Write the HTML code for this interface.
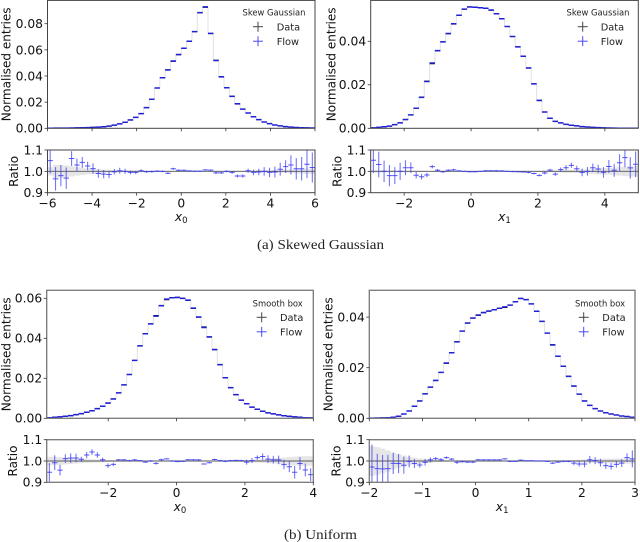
<!DOCTYPE html>
<html>
<head>
<meta charset="utf-8">
<title>Normalised entries and ratio plots</title>
<style>
html,body{margin:0;padding:0;background:#fff;}
svg{display:block;font-family:"DejaVu Sans","Liberation Sans",sans-serif;filter:blur(0.35px);}
</style>
</head>
<body>
<svg id="figure" width="640" height="542" viewBox="0 0 640 542" xmlns="http://www.w3.org/2000/svg">
<defs id="clips"></defs>
<text x="257" y="249" font-family="'Liberation Serif',serif" font-size="14" fill="#222" textLength="127" lengthAdjust="spacingAndGlyphs">(a) Skewed Gaussian</text>
<text x="284" y="539" font-family="'Liberation Serif',serif" font-size="14" fill="#222" textLength="73" lengthAdjust="spacingAndGlyphs">(b) Uniform</text>
</svg>
<script>
// ---- Skew Gaussian x0 ----
const skewX0Entries = [.00005,.0001,.0001,.00015,.0002,.0003,.0004,.0005,.0007,.0009,.0012,.0017,.0024,.0034,.0046,.0064,.0084,.0112,.0158,.0222,.0308,.0387,.0448,.0512,.0563,.0611,.0665,.0739,.0884,.0925,.0724,.052,.0395,.031,.0245,.0189,.0148,.0117,.0089,.0066,.0048,.0036,.0025,.0018,.0013,.0009,.0006,.0004,.0003,.0002];
const skewX0Ratio = [1.05,.965,.98,.968,1.06,1.03,1.042,1.025,1.013,.99,.987,.985,.998,1.003,1.0,.995,.995,1.003,.998,.999,1.001,1.0,.991,1.012,1.005,1.005,1.002,1.001,1.001,1.007,1.006,.993,.993,1.0,.995,.978,.978,1.003,.995,.997,1.0,.995,.997,1.01,1.022,1.03,1.012,1.012,1.033,1.018];
const skewX0Error = [.06,.055,.05,.05,.035,.03,.025,.02,.025,.02,.02,.017,.013,.014,.012,.009,.008,.007,.005,.005,.004,.004,.004,.005,.004,.003,.003,.003,.003,.003,.003,.006,.005,.005,.006,.007,.008,.01,.013,.015,.02,.022,.025,.03,.03,.045,.05,.055,.065,.07];
const skewX0Band = [.02,.03,.03,.028,.024,.02,.017,.014,.012,.01,.008,.007,.006,.005,.004,.004,.003,.003,.002,.002,.002,.002,.002,.002,.002,.002,.002,.002,.002,.002,.002,.002,.002,.003,.003,.003,.003,.004,.004,.005,.005,.006,.007,.007,.008,.009,.01,.011,.012,.013];
const skewX0TicksX = [-6,-4,-2,0,2,4,6];
const skewX0TicksY = [0,.02,.04,.06,.08];
// ---- Skew Gaussian x1 ----
const skewX1Entries = [.0002,.0004,.0007,.001,.0017,.0025,.004,.0061,.0093,.0144,.0217,.0297,.0356,.0398,.0435,.0479,.0519,.0548,.0558,.0557,.0554,.0551,.0543,.0526,.0503,.0468,.0422,.0375,.0332,.0278,.0205,.0129,.0075,.0046,.0032,.0025,.0018,.0014,.0011,.0008,.0006,.0004,.0003,.0002,.00015,.0001,.00005,.00005,.00005,.00005];
const skewX1Ratio = [1.052,1.032,1.0,.98,.98,1.0,1.017,1.017,.982,.975,.983,1.022,1.005,.998,1.005,1.007,1.002,1.0,.998,.998,1.0,1.003,1.003,1.003,1.002,1.0,.999,.998,.997,.995,.99,.981,.992,1.006,.987,1.008,1.017,1.028,1.012,.995,1.0,1.017,1.011,.995,1.023,1.005,1.04,1.064,1.016,1.033];
const skewX1Error = [.06,.06,.05,.05,.04,.04,.035,.025,.015,.013,.01,.008,.006,.005,.005,.005,.003,.003,.003,.003,.003,.003,.003,.003,.003,.003,.003,.003,.003,.004,.004,.005,.006,.006,.008,.01,.012,.012,.014,.018,.02,.02,.02,.025,.03,.03,.04,.045,.05,.06];
const skewX1Band = [.006,.006,.005,.005,.005,.004,.004,.003,.003,.003,.002,.002,.002,.002,.002,.002,.002,.002,.002,.002,.002,.002,.002,.002,.002,.002,.002,.002,.002,.002,.003,.003,.004,.004,.005,.006,.007,.008,.008,.009,.01,.012,.014,.015,.016,.018,.02,.022,.024,.024];
const skewX1TicksX = [-2,0,2,4];
const skewX1TicksY = [0,.02,.04];
// ---- Smooth box x0 ----
const boxX0Entries = [.0003,.0005,.0007,.001,.0013,.0018,.0023,.003,.0037,.0048,.006,.0077,.0097,.0127,.0167,.0219,.0289,.0362,.0424,.0472,.0514,.0562,.0593,.0603,.0605,.06,.0589,.0549,.0505,.0457,.0408,.0343,.0268,.0203,.0153,.0118,.0091,.0073,.0056,.0045,.0035,.0027,.0022,.0017,.0013,.001,.0007,.0005,.0003,.0002];
const boxX0Ratio = [.947,.992,.957,1.011,1.014,1.014,1.008,1.028,1.042,1.028,1.006,.978,.984,1.005,1.005,1.002,1.005,1.002,.995,1.0,.989,1.006,1.01,1.0,.997,.998,1.006,1.006,1.005,.986,.992,1.007,1.002,.999,1.002,1.003,1.002,.995,1.002,1.016,1.021,1.009,1.006,1.005,.983,.973,.947,.988,.958,.936];
const boxX0Error = [.043,.035,.025,.02,.022,.02,.012,.015,.014,.013,.01,.01,.008,.004,.004,.004,.004,.003,.003,.004,.006,.005,.003,.003,.002,.003,.003,.003,.003,.003,.003,.004,.003,.005,.003,.003,.004,.012,.012,.01,.015,.018,.018,.02,.022,.025,.03,.03,.03,.03];
const boxX0Band = [.02,.02,.018,.016,.014,.012,.01,.009,.008,.007,.006,.005,.004,.003,.003,.002,.002,.002,.002,.002,.002,.002,.002,.002,.002,.002,.002,.002,.002,.002,.002,.002,.002,.003,.003,.004,.004,.005,.006,.007,.008,.01,.012,.014,.016,.018,.02,.022,.022,.022];
const boxX0TicksX = [-2,0,2,4];
const boxX0TicksY = [0,.02,.04,.06];
// ---- Smooth box x1 ----
const boxX1Entries = [.00005,.0001,.00015,.0002,.0004,.0008,.0017,.0029,.0048,.0069,.0097,.0123,.0149,.0181,.0217,.0258,.0303,.0345,.0377,.0397,.0407,.0417,.0423,.0428,.0434,.0438,.0448,.0461,.0473,.0469,.0452,.0423,.0383,.0337,.0291,.0246,.0206,.0166,.0128,.0096,.0069,.0051,.0038,.0029,.0022,.0017,.0013,.0009,.0007,.0004];
const boxX1Ratio = [.972,.964,.963,.964,.989,.988,.98,.998,.988,.981,.994,1.005,1.011,1.006,1.016,1.009,.994,.997,.995,.995,1.006,1.005,1.005,1.005,1.005,1.01,.998,.998,1.004,1.001,1.001,1.0,1.0,.998,.99,.995,.998,.998,.99,.986,.986,1.006,1.002,.992,.978,.975,.984,.99,1.016,1.01];
const boxX1Error = [.105,.07,.065,.065,.05,.045,.04,.028,.02,.012,.016,.012,.008,.008,.006,.005,.008,.005,.004,.005,.003,.003,.003,.003,.003,.003,.003,.003,.003,.002,.002,.002,.002,.002,.004,.003,.004,.004,.01,.012,.016,.018,.017,.018,.015,.015,.015,.018,.02,.04];
const boxX1Band = [.07,.065,.058,.05,.04,.032,.026,.02,.016,.012,.01,.008,.006,.005,.004,.003,.003,.002,.002,.002,.002,.002,.002,.002,.002,.002,.002,.002,.002,.002,.002,.002,.002,.002,.003,.003,.003,.004,.005,.006,.007,.008,.009,.01,.011,.011,.012,.012,.013,.013];
const boxX1TicksX = [-2,-1,0,1,2,3];
const boxX1TicksY = [0,.02,.04];

const ratioTicks = [0.9,1.0,1.1];
const ratioDomain = [0.9,1.1];

const SVGNS = 'http://www.w3.org/2000/svg';
const svg = document.getElementById('figure');
const defs = document.getElementById('clips');

function make(tag, attrs, parent, txt){
  const el = document.createElementNS(SVGNS, tag);
  for (const k in attrs) el.setAttribute(k, attrs[k]);
  if (txt !== undefined) el.textContent = txt;
  parent.appendChild(el);
  return el;
}
function fmtTick(v, digits){
  return (v < 0 ? '\u2212' : '') + Math.abs(v).toFixed(digits);
}

function drawPanel(p){
  const xs = v => p.left + (v - p.xDomain[0]) / (p.xDomain[1] - p.xDomain[0]) * (p.right - p.left);
  const ys = v => p.mainBottom - v * p.pxPerUnit;
  const yr = v => p.ratioBottom - (v - ratioDomain[0]) / (ratioDomain[1] - ratioDomain[0]) * (p.ratioBottom - p.ratioTop);
  const n = p.entries.length;
  const binW = (p.xDomain[1] - p.xDomain[0]) / n;
  const edge = i => p.xDomain[0] + i * binW;
  const centre = i => p.xDomain[0] + (i + 0.5) * binW;

  const g = make('g', {}, svg);
  
  

  const clipMain = make('clipPath', {id: p.id + '-clip-main'}, defs);
  make('rect', {x: p.left, y: p.mainTop, width: p.right - p.left, height: p.mainBottom - p.mainTop}, clipMain);
  const clipRatio = make('clipPath', {id: p.id + '-clip-ratio'}, defs);
  make('rect', {x: p.left, y: p.ratioTop, width: p.right - p.left, height: p.ratioBottom - p.ratioTop}, clipRatio);

  // main histogram
  const main = make('g', {'clip-path': 'url(#' + p.id + '-clip-main)'}, g);
  
  
  let step = '';
  for (let i = 0; i < n; i++){
    step += (i ? 'L' : 'M') + xs(edge(i)).toFixed(2) + ' ' + ys(p.entries[i]).toFixed(2);
    step += 'L' + xs(edge(i + 1)).toFixed(2) + ' ' + ys(p.entries[i]).toFixed(2);
  }
  const stepPath = make('path', {d: step, fill: 'none', stroke: '#e2e2e2', 'stroke-width': 1}, main);
  
  
  for (let i = 0; i < n; i++){
    const dataBar = make('line', {x1: xs(edge(i)), x2: xs(edge(i + 1)), y1: ys(p.entries[i]), y2: ys(p.entries[i]), stroke: '#111', 'stroke-width': 1}, main);
    
    
    const flowV = p.entries[i] * (1 + (p.ratio[i] - 1) * 0.5);
    const flowBar = make('line', {x1: xs(edge(i)), x2: xs(edge(i + 1)), y1: ys(flowV), y2: ys(flowV), stroke: '#1f1fd8', 'stroke-width': 1.5}, main);
    
    
  }

  // ratio panel
  const ratio = make('g', {'clip-path': 'url(#' + p.id + '-clip-ratio)'}, g);
  
  
  let up = '', down = '';
  for (let i = 0; i < n; i++){
    up += (i ? 'L' : 'M') + xs(edge(i)).toFixed(2) + ' ' + yr(1 + p.band[i]).toFixed(2) + 'L' + xs(edge(i + 1)).toFixed(2) + ' ' + yr(1 + p.band[i]).toFixed(2);
  }
  for (let i = n - 1; i >= 0; i--){
    down += 'L' + xs(edge(i + 1)).toFixed(2) + ' ' + yr(1 - p.band[i]).toFixed(2) + 'L' + xs(edge(i)).toFixed(2) + ' ' + yr(1 - p.band[i]).toFixed(2);
  }
  const bandPath = make('path', {d: up + down + 'Z', fill: '#e6e6e6', stroke: 'none'}, ratio);
  
  
  const oneLine = make('line', {x1: p.left, x2: p.right, y1: yr(1), y2: yr(1), stroke: p.oneColor, 'stroke-width': p.oneWidth}, ratio);
  
  
  for (let i = 0; i < n; i++){
    const h = make('line', {x1: xs(edge(i)), x2: xs(edge(i + 1)), y1: yr(p.ratio[i]), y2: yr(p.ratio[i]), stroke: '#3a3af5', 'stroke-width': 1, 'stroke-opacity': 0.85}, ratio);
    
    
    const v = make('line', {x1: xs(centre(i)), x2: xs(centre(i)), y1: yr(p.ratio[i] - p.error[i]), y2: yr(p.ratio[i] + p.error[i]), stroke: '#3a3af5', 'stroke-width': 1.1, 'stroke-opacity': 0.7}, ratio);
    
    
  }

  // frames
  const frameMain = make('rect', {x: p.left, y: p.mainTop, width: p.right - p.left, height: p.mainBottom - p.mainTop, fill: 'none', stroke: p.frameColor, 'stroke-width': p.frameWidth}, g);
  
  
  const frameRatio = make('rect', {x: p.left, y: p.ratioTop, width: p.right - p.left, height: p.ratioBottom - p.ratioTop, fill: 'none', stroke: p.frameColor, 'stroke-width': p.frameWidth}, g);
  
  

  // x ticks
  p.ticksX.forEach(t => {
    const a = make('line', {x1: xs(t), x2: xs(t), y1: p.mainBottom, y2: p.mainBottom + 3, stroke: '#333', 'stroke-width': 0.8}, g);
    
    
    const b = make('line', {x1: xs(t), x2: xs(t), y1: p.ratioBottom, y2: p.ratioBottom + 3, stroke: '#333', 'stroke-width': 0.8}, g);
    
    
    const lab = make('text', {x: xs(t), y: p.ratioBottom + 14.6, 'font-size': 12.3, 'text-anchor': 'middle', fill: '#111'}, g, fmtTick(t, 0));
    
    
  });

  // y ticks
  p.ticksY.forEach(t => {
    const a = make('line', {x1: p.left - 3, x2: p.left, y1: ys(t), y2: ys(t), stroke: '#333', 'stroke-width': 0.8}, g);
    
    
    const lab = make('text', {x: p.left - 4.5, y: ys(t) + 4.4, 'font-size': 12.3, 'text-anchor': 'end', fill: '#111'}, g, fmtTick(t, 2));
    
    
  });
  ratioTicks.forEach(t => {
    const a = make('line', {x1: p.left - 3, x2: p.left, y1: yr(t), y2: yr(t), stroke: '#333', 'stroke-width': 0.8}, g);
    
    
    const lab = make('text', {x: p.left - 4.5, y: yr(t) + 4.4, 'font-size': 12.3, 'text-anchor': 'end', fill: '#111'}, g, fmtTick(t, 1));
    
    
  });

  // axis titles
  const cy = (p.mainTop + p.mainBottom) / 2;
  const yTitle = make('text', {x: 0, y: 0, 'font-size': 12.05, 'text-anchor': 'middle', fill: '#111', transform: 'translate(' + (p.yTitleX + 4.3) + ',' + cy + ') rotate(-90)'}, g, 'Normalised entries');
  
  
  const rcy = (p.ratioTop + p.ratioBottom) / 2;
  const rTitle = make('text', {x: 0, y: 0, 'font-size': 12.05, 'text-anchor': 'middle', fill: '#111', transform: 'translate(' + (p.ratioTitleX + 4.3) + ',' + rcy + ') rotate(-90)'}, g, 'Ratio');
  
  
  const xTitle = make('text', {x: (p.left + p.right) / 2, y: p.ratioBottom + 28.5, 'font-size': 12.3, 'text-anchor': 'middle', fill: '#111'}, g);
  
  
  make('tspan', {'font-style': 'italic'}, xTitle, 'x');
  make('tspan', {'font-size': 8.5, dy: 2}, xTitle, p.xSub);

  // legend
  const lg = make('g', {}, g);
  
  
  const lt = make('text', {x: p.legendTitleX, y: p.legendY + 3, 'font-size': 8.4, 'text-anchor': 'middle', fill: '#222'}, lg, p.legendTitle);
  
  
  [['Data', '#444', 14, 'legend-entry-data'], ['Flow', '#4a4af5', 28.5, 'legend-entry-flow']].forEach(e => {
    const my = p.legendY + e[2];
    const h = make('line', {x1: p.legendMarkerX - 5, x2: p.legendMarkerX + 5, y1: my, y2: my, stroke: e[1], 'stroke-width': 1}, lg);
    
    
    const v = make('line', {x1: p.legendMarkerX, x2: p.legendMarkerX, y1: my - 5, y2: my + 5, stroke: e[1], 'stroke-width': 1}, lg);
    
    
    const t = make('text', {x: p.legendTextX, y: my + 3.6, 'font-size': 9.8, fill: '#222'}, lg, e[0]);
    
    
  });
}

const topCommon = {mainTop: 0.4, mainBottom: 128.3, ratioTop: 150, ratioBottom: 192.7, frameColor: '#444', frameWidth: 1, oneColor: '#555', oneWidth: 0.9};
const botCommon = {mainTop: 290.3, mainBottom: 418.3, ratioTop: 439.7, ratioBottom: 482.3, frameColor: '#777', frameWidth: 1.3, oneColor: '#777', oneWidth: 1.3};

drawPanel(Object.assign({}, topCommon, {id: 'skew-x0', left: 47.5, right: 315, xDomain: [-6, 6], pxPerUnit: 1307.5,
  entries: skewX0Entries, ratio: skewX0Ratio, error: skewX0Error, band: skewX0Band, ticksX: skewX0TicksX, ticksY: skewX0TicksY,
  xSub: '0', legendTitle: 'Skew Gaussian', legendTitleX: 274, legendY: 12.7, legendMarkerX: 258, legendTextX: 276.7, yTitleX: 6, ratioTitleX: 13.5}));
drawPanel(Object.assign({}, topCommon, {id: 'skew-x1', left: 370.7, right: 638.3, xDomain: [-3, 5], pxPerUnit: 2175,
  entries: skewX1Entries, ratio: skewX1Ratio, error: skewX1Error, band: skewX1Band, ticksX: skewX1TicksX, ticksY: skewX1TicksY,
  xSub: '1', legendTitle: 'Skew Gaussian', legendTitleX: 598, legendY: 12.7, legendMarkerX: 582.7, legendTextX: 600.7, yTitleX: 331, ratioTitleX: 337}));
drawPanel(Object.assign({}, botCommon, {id: 'box-x0', left: 46.7, right: 313.3, xDomain: [-3.8, 4], pxPerUnit: 2000,
  entries: boxX0Entries, ratio: boxX0Ratio, error: boxX0Error, band: boxX0Band, ticksX: boxX0TicksX, ticksY: boxX0TicksY,
  xSub: '0', legendTitle: 'Smooth box', legendTitleX: 277.7, legendY: 303.3, legendMarkerX: 261.7, legendTextX: 280, yTitleX: 6, ratioTitleX: 12.7}));
drawPanel(Object.assign({}, botCommon, {id: 'box-x1', left: 369.3, right: 635, xDomain: [-2, 3], pxPerUnit: 2530,
  entries: boxX1Entries, ratio: boxX1Ratio, error: boxX1Error, band: boxX1Band, ticksX: boxX1TicksX, ticksY: boxX1TicksY,
  xSub: '1', legendTitle: 'Smooth box', legendTitleX: 600, legendY: 303.3, legendMarkerX: 583.7, legendTextX: 602.3, yTitleX: 328, ratioTitleX: 336}));
</script>
</body>
</html>
